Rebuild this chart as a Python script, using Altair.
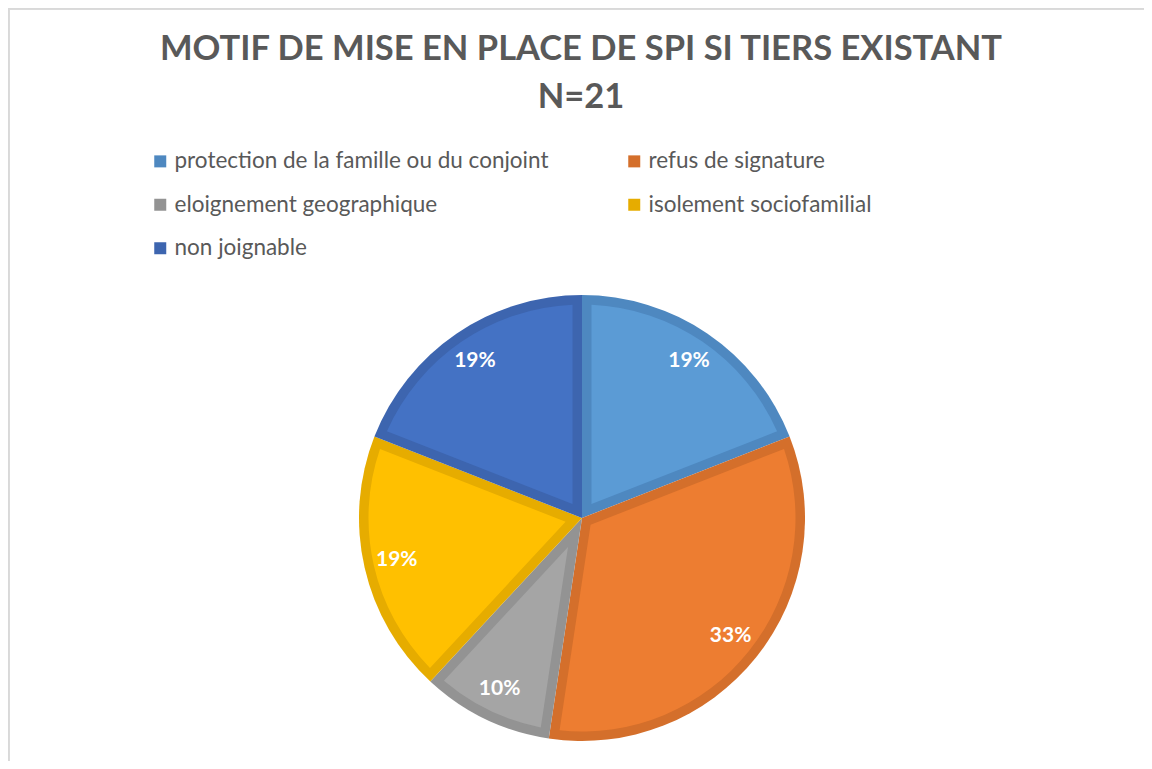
import math
import altair as alt
import pandas as pd

# ---- data ----
CATEGORIES = [
    "protection de la famille ou du conjoint",
    "refus de signature",
    "eloignement geographique",
    "isolement sociofamilial",
    "non joignable",
]
COUNTS = [4, 7, 2, 4, 4]
PERCENT_LABELS = ["19%", "33%", "10%", "19%", "19%"]
TITLE_LINES = ["MOTIF DE MISE EN PLACE DE SPI SI TIERS EXISTANT", "N=21"]

FILL_COLORS = ["#5B9BD5", "#ED7D31", "#A5A5A5", "#FFC000", "#4472C4"]
BORDER_COLORS = ["#4E88C0", "#D46F2B", "#939393", "#E6AC00", "#3D65AF"]

FONT = "Lato"
TEXT_COLOR = "#595959"

W, H = 1136, 753
CX, CY = 574, 510
R = 223          # outer radius of the pie
B = 9.5          # width of the inset border of each slice
RI = R - B       # radius of the lighter inner fill
PAD = 2 * math.asin(B / math.hypot(RI, 20))

df = pd.DataFrame({
    "cat": CATEGORIES,
    "n": COUNTS,
    "label": PERCENT_LABELS,
    "idx": list(range(len(CATEGORIES))),
})

base = alt.Chart(df).encode(
    theta=alt.Theta("n:Q", stack=True),
    order=alt.Order("idx:Q"),
    x=alt.value(CX),
    y=alt.value(CY),
)

outer = base.mark_arc(radius=R).encode(
    fill=alt.Fill(
        "cat:N",
        scale=alt.Scale(domain=CATEGORIES, range=BORDER_COLORS),
        legend=alt.Legend(
            title=None,
            orient="none",
            direction="horizontal",
            legendX=141,
            legendY=142,
            columns=2,
            columnPadding=74,
            rowPadding=20.5,
            symbolType="square",
            symbolSize=144,
            symbolStrokeWidth=0,
            labelFont=FONT,
            labelFontSize=22.5,
            labelColor=TEXT_COLOR,
            labelOffset=3,
            labelLimit=600,
            padding=0,
        ),
    )
)

# inner lighter fill, inset by B on every side (apex offset from the centre)
inner = alt.Chart(df).transform_joinaggregate(
    total="sum(n)"
).transform_calculate(
    apex=f"{B} / sin(PI * datum.n / datum.total)",
    rout=f"{RI}",
).mark_arc(padAngle=PAD).encode(
    theta=alt.Theta("n:Q", stack=True),
    order=alt.Order("idx:Q"),
    x=alt.value(CX),
    y=alt.value(CY),
    radius=alt.Radius("rout:Q", scale=None),
    radius2=alt.Radius2("apex:Q"),
    color=alt.Color(
        "cat:N",
        scale=alt.Scale(domain=CATEGORIES, range=FILL_COLORS),
        legend=None,
    ),
)

labels = base.mark_text(
    radius=190, font=FONT, fontSize=21, fontWeight="bold", color="white"
).encode(text="label:N")

title1 = alt.Chart(pd.DataFrame({"t": [TITLE_LINES[0]]})).mark_text(
    font=FONT, fontSize=34.5, fontWeight="bold", color=TEXT_COLOR, baseline="alphabetic"
).encode(text="t:N", x=alt.value(CX - 1), y=alt.value(52))

title2 = alt.Chart(pd.DataFrame({"t": [TITLE_LINES[1]]})).mark_text(
    font=FONT, fontSize=34.5, fontWeight="bold", color=TEXT_COLOR, baseline="alphabetic"
).encode(text="t:N", x=alt.value(CX - 1), y=alt.value(100))

frame_top = alt.Chart(df).mark_rule(color="#D9D9D9", strokeWidth=1.5).encode(
    x=alt.value(0), x2=alt.value(W), y=alt.value(0.75)
)
frame_left = alt.Chart(df).mark_rule(color="#D9D9D9", strokeWidth=1.5).encode(
    x=alt.value(0.75), y=alt.value(0), y2=alt.value(H)
)

chart = alt.layer(frame_top, frame_left, outer, inner, labels, title1, title2).resolve_scale(
    color="independent", fill="independent"
).properties(
    width=W,
    height=H,
    padding=0,
    autosize=alt.AutoSizeParams(type="none"),
    background="white",
).configure_view(stroke=None)

chart.save("out.html", embed_options={"renderer": "svg", "actions": False})
